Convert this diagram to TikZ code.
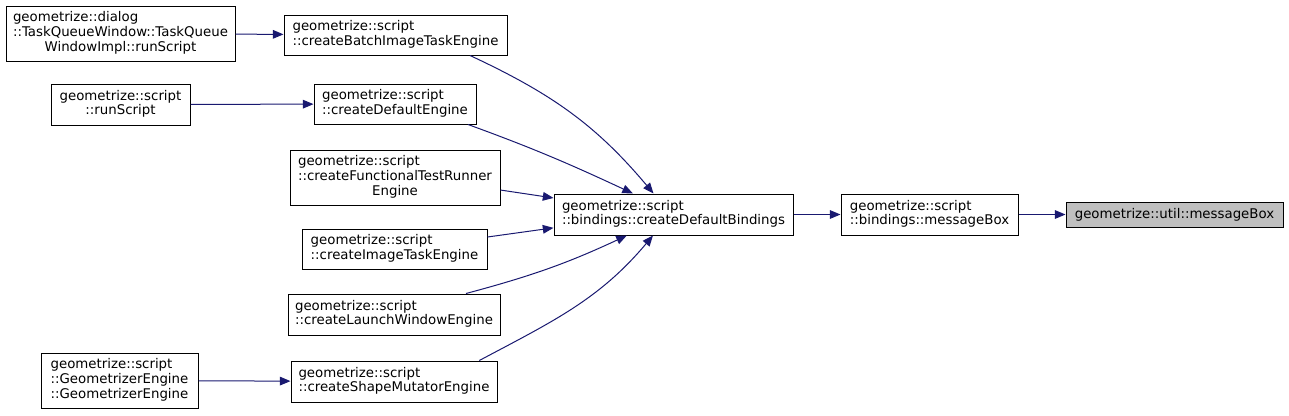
\documentclass[tikz,border=0pt]{standalone}
\usepackage{fontspec}
\setmainfont{DejaVu Sans}
\usetikzlibrary{arrows.meta}
\definecolor{edgeblue}{HTML}{191970}
\definecolor{hilite}{HTML}{BFBFBF}
\newcommand{\fnlines}[1]{\begin{tabular}{@{}l@{}}#1\end{tabular}}
\newcommand{\lastc}[1]{\multicolumn{1}{@{}c@{}}{#1}}

\begin{document}
\begin{tikzpicture}[x=0.75pt, y=0.75pt, font=\fontsize{10}{11}\selectfont]
    \tikzset{fn/.style={draw=black, rectangle, inner sep=0pt, line width=0.75pt}};
    \tikzset{call/.style={color=edgeblue, line width=0.75pt, -{Triangle[length=8pt,width=6.5pt]}}};
    \useasboundingbox (0,0) rectangle (1289,-415);
    % callers, left column
    \node[fn, minimum width=171.75pt, minimum height=41.25pt] (sDlg) at (120.5,-33.5) {\fnlines{geometrize::dialog\\::TaskQueueWindow::TaskQueue\\\lastc{WindowImpl::runScript}}};
    \node[fn, minimum width=104.25pt, minimum height=30.75pt] (sRun) at (120.5,-104.5) {\fnlines{geometrize::script\\\lastc{::runScript}}};
    \node[fn, minimum width=117.75pt, minimum height=41.25pt] (sGeo) at (119.5,-380.5) {\fnlines{geometrize::script\\::GeometrizerEngine\\::GeometrizerEngine}};
    % engines
    \node[fn, minimum width=167.25pt, minimum height=30pt] (sBatch) at (395.5,-35) {\fnlines{geometrize::script\\::createBatchImageTaskEngine}};
    \node[fn, minimum width=121.5pt, minimum height=30pt] (sDef) at (395,-104) {\fnlines{geometrize::script\\::createDefaultEngine}};
    \node[fn, minimum width=157.5pt, minimum height=41.25pt] (sFunc) at (395,-177.5) {\fnlines{geometrize::script\\::createFunctionalTestRunner\\\lastc{Engine}}};
    \node[fn, minimum width=138.75pt, minimum height=30pt] (sImg) at (394.5,-249) {\fnlines{geometrize::script\\::createImageTaskEngine}};
    \node[fn, minimum width=159pt, minimum height=30.75pt] (sLaunch) at (394,-314.5) {\fnlines{geometrize::script\\::createLaunchWindowEngine}};
    \node[fn, minimum width=154.5pt, minimum height=30.75pt] (sShape) at (394,-381.5) {\fnlines{geometrize::script\\::createShapeMutatorEngine}};
    % bindings and target
    \node[fn, minimum width=179.25pt, minimum height=30.75pt] (sBind) at (673.5,-214.5) {\fnlines{geometrize::script\\::bindings::createDefaultBindings}};
    \node[fn, minimum width=132.75pt, minimum height=30.75pt] (sMsg) at (929.5,-214.5) {\fnlines{geometrize::script\\::bindings::messageBox}};
    \node[fn, fill=hilite, minimum width=162.75pt, minimum height=18.75pt] (sUtil) at (1174.5,-214.5) {geometrize::util::messageBox};
    {
      \path[call]
        (sDlg) edge (sBatch)
        (sRun) edge (sDef)
        (sGeo) edge (sShape)
        ([xshift=55.9pt]sBatch.south) edge[out=-25,in=130] ([xshift=-15pt]sBind.north)
        ([xshift=54.75pt]sDef.south) edge[out=-20,in=155] ([xshift=-30.4pt]sBind.north)
        ([yshift=-9.4pt]sFunc.east) edge ([yshift=12.4pt]sBind.west)
        ([yshift=9pt]sImg.east) edge ([yshift=-10pt]sBind.west)
        ([xshift=54pt]sLaunch.north) edge[out=15,in=-155] ([xshift=-35pt]sBind.south)
        ([xshift=64pt]sShape.north) edge[out=28,in=-130] ([xshift=-15.4pt]sBind.south)
        (sBind) edge (sMsg)
        (sMsg) edge (sUtil)
        ;
    }
\end{tikzpicture}
\end{document}
